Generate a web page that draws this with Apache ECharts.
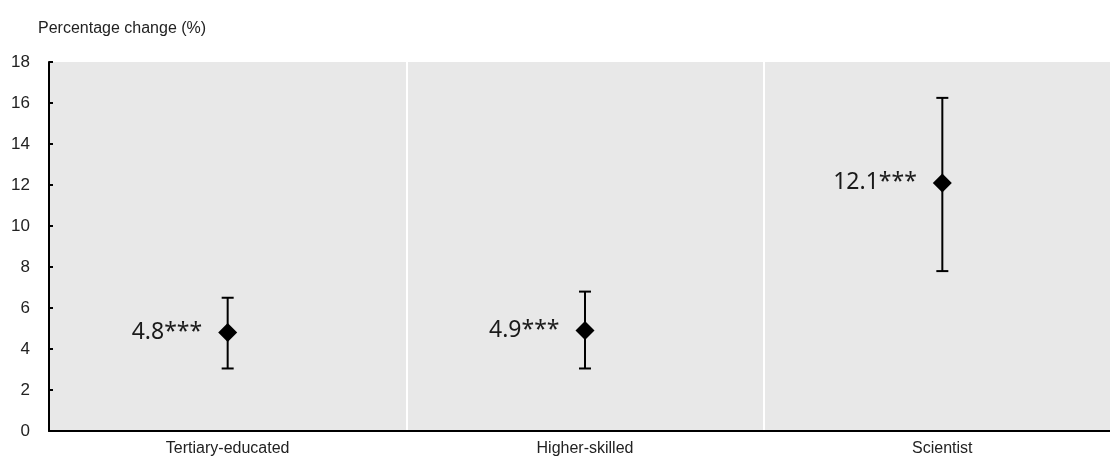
<!DOCTYPE html>
<html>
<head>
<meta charset="utf-8">
<script src="https://cdn.jsdelivr.net/npm/echarts@6/dist/echarts.min.js"></script>
<style>
  html, body { margin: 0; padding: 0; background: #fff; }
  #chart { width: 1110px; height: 458px; }
</style>
</head>
<body>
<div id="chart"></div>
<script>
// data
const categories = ['Tertiary-educated', 'Higher-skilled', 'Scientist'];
const estimates = [4.8, 4.9, 12.1];
const lowerBounds = [3.05, 3.05, 7.8];
const upperBounds = [6.5, 6.8, 16.25];
const stars = ['***', '***', '***'];
const yTicks = [0, 2, 4, 6, 8, 10, 12, 14, 16, 18];

const axisFont = '"Liberation Sans Narrow", "Arial Narrow", "Liberation Sans", Arial, sans-serif';

const chart = echarts.init(document.getElementById('chart'));

const option = {
    backgroundColor: '#fff',
    animation: false,
    title: {
        text: 'Percentage change (%)',
        left: 38,
        top: 21,
        padding: 0,
        textStyle: { fontFamily: axisFont, fontSize: 16, fontWeight: 'normal', color: '#222' }
    },
    grid: { left: 49, top: 62, width: 1072, height: 369, outerBoundsMode: 'none', containLabel: false },
    xAxis: {
        type: 'category',
        data: categories,
        boundaryGap: true,
        axisLine: { lineStyle: { color: '#000', width: 2 } },
        axisTick: { inside: true, length: 5, lineStyle: { color: '#000', width: 2 } },
        splitLine: { show: true, lineStyle: { color: '#fff', width: 2 } },
        splitArea: { show: true, areaStyle: { color: ['#e8e8e8', '#e8e8e8'] } },
        axisLabel: { fontFamily: axisFont, fontSize: 16, color: '#222', margin: 10 }
    },
    yAxis: {
        type: 'value',
        min: yTicks[0],
        max: yTicks[yTicks.length - 1],
        interval: 2,
        axisLine: { show: true, lineStyle: { color: '#000', width: 2 } },
        axisTick: { show: true, inside: true, length: 4, lineStyle: { color: '#000', width: 2 } },
        splitLine: { show: true, lineStyle: { color: '#fff', width: 2 } },
        axisLabel: { fontFamily: axisFont, fontSize: 17, color: '#222', margin: 19 }
    },
    series: [
        {
            type: 'custom',
            data: categories.map((c, i) => [i, lowerBounds[i], upperBounds[i]]),
            renderItem: function(params, api) {
                const lo = api.coord([api.value(0), api.value(1)]);
                const hi = api.coord([api.value(0), api.value(2)]);
                const cap = 6;
                const style = { stroke: '#000', lineWidth: 2 };
                return {
                    type: 'group',
                    children: [
                        { type: 'line', shape: { x1: lo[0], y1: lo[1], x2: hi[0], y2: hi[1] }, style: style },
                        { type: 'line', shape: { x1: lo[0] - cap, y1: lo[1], x2: lo[0] + cap, y2: lo[1] }, style: style },
                        { type: 'line', shape: { x1: hi[0] - cap, y1: hi[1], x2: hi[0] + cap, y2: hi[1] }, style: style }
                    ]
                };
            },
            z: 2
        },
        {
            type: 'scatter',
            data: estimates.map((v, i) => [i, v]),
            symbol: 'diamond',
            symbolSize: [19, 19],
            itemStyle: { color: '#000', opacity: 1 },
            label: {
                show: true,
                position: 'left',
                distance: 16,
                formatter: p => estimates[p.dataIndex].toFixed(1) + stars[p.dataIndex],
                fontFamily: '"Noto Sans", "Open Sans", sans-serif',
                fontSize: 23,
                color: '#1a1a1a'
            },
            z: 3
        }
    ]
};

chart.setOption(option);
</script>
</body>
</html>
